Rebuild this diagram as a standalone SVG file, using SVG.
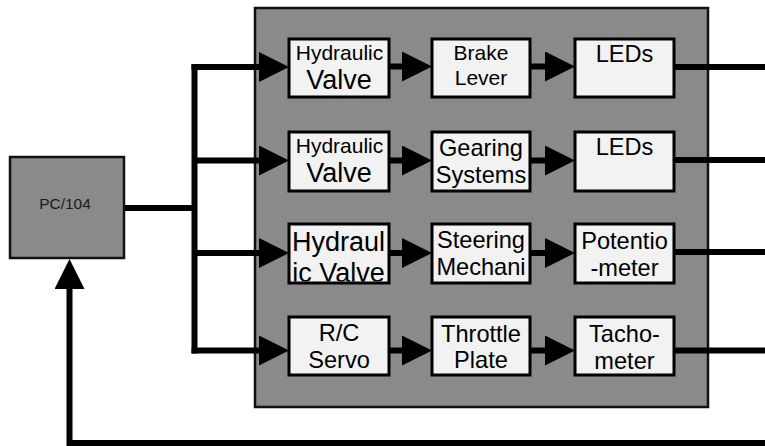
<svg xmlns="http://www.w3.org/2000/svg" width="765" height="446" viewBox="0 0 765 446">
<style>
.bg{fill:#ffffff}
.outer{fill:#8a8a8a;stroke:#111;stroke-width:2.5}
.pc{fill:#8a8a8a;stroke:#111;stroke-width:2.5}
.box{fill:#f2f2f2;stroke:#000;stroke-width:3}
.wire{fill:none;stroke:#000;stroke-width:6;stroke-linecap:butt;stroke-linejoin:miter}
text{font-family:"Liberation Sans",Arial,sans-serif;fill:#000;text-anchor:middle}
.s21{font-size:21px}
.s26{font-size:27px}
.s27{font-size:27px}
.s24{font-size:23.6px}
.s15{font-size:15.5px;fill:#1a1a1a}
</style>
<defs>
<marker id="ah" markerUnits="userSpaceOnUse" markerWidth="31" markerHeight="31" refX="0" refY="15" orient="auto">
<path d="M0,0 L30,15 L0,30 Z" fill="#000"/>
</marker>
<clipPath id="clipHV3"><rect x="290.5" y="225.5" width="97" height="56"/></clipPath>
</defs>
<rect class="bg" x="0" y="0" width="765" height="446"/>
<g id="subsystem">
<rect class="outer" x="255" y="8" width="453" height="399"/>
</g>
<g id="connectors">
<path class="wire" d="M124,208 H194.5"/>
<path class="wire" d="M194.5,64 V353.5"/>
<path class="wire" d="M191.5,67 H259" marker-end="url(#ah)"/>
<path class="wire" d="M194.5,160.5 H259" marker-end="url(#ah)"/>
<path class="wire" d="M194.5,253 H259" marker-end="url(#ah)"/>
<path class="wire" d="M191.5,350.5 H259" marker-end="url(#ah)"/>
<path class="wire" d="M389,66.5 H402" marker-end="url(#ah)"/>
<path class="wire" d="M530,66.5 H545" marker-end="url(#ah)"/>
<path class="wire" d="M389,160.5 H402" marker-end="url(#ah)"/>
<path class="wire" d="M530,160.5 H545" marker-end="url(#ah)"/>
<path class="wire" d="M389,253 H402" marker-end="url(#ah)"/>
<path class="wire" d="M530,253 H545" marker-end="url(#ah)"/>
<path class="wire" d="M389,350.5 H402" marker-end="url(#ah)"/>
<path class="wire" d="M530,350.5 H545" marker-end="url(#ah)"/>
<path class="wire" d="M674,67 H765"/>
<path class="wire" d="M674,160 H765"/>
<path class="wire" d="M674,252 H765"/>
<path class="wire" d="M674,350.5 H765"/>
<path class="wire" d="M765,443 H69.5 V289" marker-end="url(#ah)"/>
</g>
<g id="pc104">
<rect class="pc" x="10" y="157" width="114" height="101"/>
<text class="s15" x="65" y="209">PC/104</text>
</g>
<g id="hydraulic-valve-1">
<rect class="box" x="289" y="39" width="100" height="58"/>
<text class="s21" x="339.5" y="60">Hydraulic</text>
<text class="s26" x="339" y="89">Valve</text>
</g>
<g id="brake-lever">
<rect class="box" x="432" y="39" width="98" height="58"/>
<text class="s21" x="481" y="60">Brake</text>
<text class="s21" x="481" y="85">Lever</text>
</g>
<g id="leds-1">
<rect class="box" x="575" y="39" width="99" height="58"/>
<text class="s24" x="624.5" y="62">LEDs</text>
</g>
<g id="hydraulic-valve-2">
<rect class="box" x="289" y="132" width="100" height="59"/>
<text class="s21" x="339.5" y="152.5">Hydraulic</text>
<text class="s26" x="339" y="181.5">Valve</text>
</g>
<g id="gearing-systems">
<rect class="box" x="432" y="132" width="98" height="59"/>
<text class="s24" x="481" y="155.5">Gearing</text>
<text class="s24" x="481" y="183">Systems</text>
</g>
<g id="leds-2">
<rect class="box" x="575" y="132" width="99" height="59"/>
<text class="s24" x="624.5" y="154.5">LEDs</text>
</g>
<g id="hydraulic-valve-3">
<rect class="box" x="289" y="224" width="100" height="59"/>
<g clip-path="url(#clipHV3)">
<text class="s27" x="338.5" y="250.5">Hydraul</text>
<text class="s27" x="338.5" y="282">ic Valve</text>
</g>
</g>
<g id="steering-mechanism">
<rect class="box" x="432" y="224" width="98" height="59"/>
<text class="s24" x="481" y="248">Steering</text>
<text class="s24" x="481" y="275">Mechani</text>
</g>
<g id="potentiometer">
<rect class="box" x="575" y="224" width="99" height="59"/>
<text class="s24" x="624.5" y="248.5">Potentio</text>
<text class="s24" x="624.5" y="276">-meter</text>
</g>
<g id="rc-servo">
<rect class="box" x="289" y="317" width="100" height="58"/>
<text class="s24" x="339" y="340.5">R/C</text>
<text class="s24" x="339" y="368">Servo</text>
</g>
<g id="throttle-plate">
<rect class="box" x="432" y="317" width="98" height="58"/>
<text class="s24" x="481" y="341.5">Throttle</text>
<text class="s24" x="481" y="368">Plate</text>
</g>
<g id="tachometer">
<rect class="box" x="575" y="317" width="99" height="58"/>
<text class="s24" x="624.5" y="342">Tacho-</text>
<text class="s24" x="624.5" y="369">meter</text>
</g>
</svg>
